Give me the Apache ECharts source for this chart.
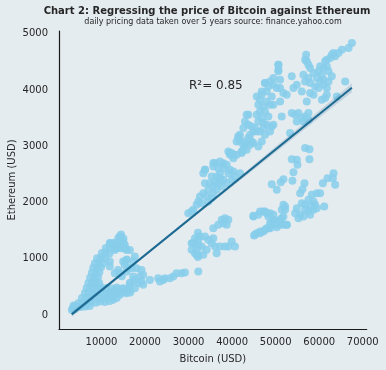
<!DOCTYPE html>
<html>
<head>
<meta charset="utf-8">
<script src="https://cdn.jsdelivr.net/npm/echarts@6/dist/echarts.min.js"></script>
<style>
html,body{margin:0;padding:0;background:#e5ecf0;}
#chart{width:386px;height:370px;}
</style>
</head>
<body>
<div id="chart"></div>
<script>
// ---- data: [Bitcoin USD, Ethereum USD] ----
const lowCluster = [
[3200,90],[3800,100],[3400,120],[4300,135],[5300,140],[6300,150],[7300,160],[4000,160],[3600,170],
[4700,210],[5700,220],[6700,205],[7700,230],[8700,215],[9700,240],[10800,230],
[5500,300],[6500,310],[7500,295],[8500,320],[9500,300],[10500,310],[11500,290],[12500,320],[13500,300],
[6200,390],[7100,400],[8000,385],[9000,410],[10000,395],[11000,380],[12000,400],[13100,400],[14300,380],[15400,410],[16600,400],
[6600,480],[7500,490],[8400,470],[9300,500],[10000,485],[11200,480],[12400,470],[13500,490],[14700,460],[16200,480],
[7000,570],[7900,560],[8800,580],[9500,565],
[7400,660],[8300,650],[9200,670],
[7800,750],[8700,740],[9500,760],
[8100,840],[9000,830],[9900,850],
[8500,920],[9400,935],[10300,915],
[9000,1010],[9900,1020],[10800,1000],
[10100,1100],[11000,1110],[11800,1090],
[11000,1190],[12000,1200],[13100,1185],[14300,1195],[15450,1180],
[12000,1280],[13100,1290],[14300,1275],[15050,1285],
[13900,1370],[15050,1360],[14500,1430],
[15440,956],[16210,837],[14670,689],[16590,571],[15820,986]
];
const midTrail = [
[14214,1394],[14981,1305],[13831,1276],[15364,1246],[14597,1187],[13447,1187],[15747,1157],[12681,1246],[11914,1276],[13064,1157],
[16514,1157],[17664,1039],[17281,950],[15747,979],[15364,890],[14981,950],[11914,950],[11914,861],
[13831,801],[13064,742],[14214,742],[15747,772],[16897,831],[18047,831],[19198,801],[19581,712],[18814,683],[17281,683],
[17664,623],[16514,564],[18431,564],[19198,594],[19581,535],[17664,475],[16514,446],[14981,475],[13447,446],[12681,386],
[11914,327],[14214,357],[15747,386],[12681,268],[11914,250],
[21114,623],[23031,653],[23414,594],[24181,623],[24564,653],[25714,653],[26481,683],[27248,742],[28398,742],[29164,754]
];
const midCluster = [
[30698,1276],[31464,1365],[32231,1246],[31848,1157],[32231,1068],[31464,1098],[32231,772],
[35680,1543],[36830,1603],[37600,1692],[38365,1721],[39130,1692],[37980,1632],[38750,1603],
[32615,1395],[33765,1395],[32230,1336],[31080,1277],[30700,1158],[31850,1069],[33380,1069],[34150,1158],[35300,1277],
[36065,1218],[36450,1099],[37215,1218],[38365,1218],[39130,1218],[39900,1306],[40665,1218],[35680,1366],[34530,1336],
[32998,1218],[32150,1460],[32150,1032]
];
const springBand = [
[44880,1751],[46415,1840],[47565,1840],[48330,1751],[48714,1633],[49480,1692],[50250,1662],[51015,1692],[51780,1751],
[52550,1603],[46415,1484],[45265,1425],[47565,1514],[48330,1543],[51400,1870],[52165,1929],
[44880,1763],[46030,1781],[47180,1840],[47950,1810],[48720,1810],[49480,1781],[49100,1662],[49860,1633],[51010,1603],
[51780,1603],[52550,1603],[48720,1544],[47950,1544],[47180,1484],[46410,1455],[45650,1455],[45030,1413],[50250,1561],[49480,1603]
];
const rightScatter = [
[56760,2967],[57760,2949],[53700,2771],[54850,2759],[55000,2670],[57760,2771],[54080,2540],[49100,2326],[50250,2226],
[51170,2362],[51780,2415],[53850,2386],[56610,2344],[56150,2237],[55620,2166],[60830,2344],[61900,2433],[63280,2522],
[63130,2433],[63660,2314],[58300,2137],[59450,2166],[60210,2166],[57530,2048],[58680,2018],[59060,1959],[57910,1929],
[56760,1959],[56000,1988],[54850,1899],[56760,1870],[57530,1840],[58680,1870],[59450,1899],[61140,1929],[54470,1810],
[55620,1781],[55230,1721],[56380,1751],[57910,1781],[51780,1959],[52160,1870],[51400,1721]
];
const upperArm = [
[41815,3085],[42965,3026],[44880,3056],[46800,3085],[46030,2996],[43350,2937],[42200,2878],[41050,2848],[40280,2789],
[39515,2848],[39130,2907],[37980,2700],[37215,2730],[36065,2700],[35680,2641],[36830,2611],[37980,2611],[38750,2670],
[39515,2581],[40280,2552],[39130,2522],[37215,2522],[36450,2463],[35300,2463],[33765,2581],[33380,2522],[33765,2344],
[34915,2344],[35680,2285],[34530,2226],[33380,2166],[32615,2107],[32230,2018],[31850,1959],[31080,1870],[29930,1810],
[30700,1840],[33000,1988],[34150,2107],[35680,2166],[36065,2374],[36830,2344],[37600,2285],[37980,2403],[38750,2344],
[39900,2403],[40665,2463],[41815,2522],[36450,2226],[35300,2078],[34530,2018],[37215,2433],
[33765,2582],[35680,2701],[39515,2879],[41430,3176],[42580,3324],[43730,3561],[45650,3887],[46800,3976],[47565,4125],
[50630,4450],[50630,4361]
];
const peakCluster = [
[67500,4836],[66730,4747],[65200,4717],[64430,4658],[63660,4599],[62890,4628],[62500,4569],[61740,4539],[63280,4658],
[61360,4510],[60980,4391],[60210,4421],[59830,4332],[61740,4421],[62130,4332],[60590,4272],[60980,4183],[60210,4154],
[59440,4213],[58680,4302],[57910,4391],[57520,4450],[57140,4510],[56990,4628],[56760,4539],[56370,4272],[57520,4213],
[56760,4154],[57910,4124],[59060,4065],[59830,4035],[60980,4094],[61740,4035],[62130,4154],[62890,4243],[65960,4154],
[61360,3857],[61740,3917],[60590,3828],[64040,3887],[58680,3917],[57910,3946],[57140,3798],[55990,3976],[54840,4094],
[54070,4035],[53690,4243],[51010,4183],[50620,4332],[50620,4450],[49470,4213],[48700,4154],[48320,4065],[49470,4094],
[50240,4035],[51010,4035],[51770,3946],[52540,3917],[47550,4124],[47940,3976],[46790,3917],[46400,3828],[46020,3739],
[47170,3709],[46400,3620],[45640,3561],[47550,3620],[48320,3531],[46790,3501],[46020,3442],[47170,3413],[47940,3383],
[49090,3353],[48700,3264],[47550,3205],[47170,3324],[46400,3264],[45250,3324],[44870,3264],[44100,3205],[43720,3146],
[42950,3086],[42570,3027],[41800,3205],[41420,3146],[41030,3086],[42180,2908],[43340,3561],[42950,3442],[43720,3383],
[44490,3353],[45640,3264],[44490,3086],[44100,3027],[42570,2938],[40270,2849],[39880,2879],[51390,3531],[53690,3590],
[54460,3561],[55220,3590],[56000,3501],[56760,3531],[57520,3590],[57520,3472],[56370,3442],[54840,3442],[53300,3235],
[51010,3798],[49470,3739],[48700,3739],[47940,3798],[49090,3887],[49470,3383]
];
// regression line (fitted line endpoints and 95% band)
const fitLine = [[3170,10],[67500,4040]];
const bandX    = [3170, 12000, 20000, 30000, 40000, 50000, 60000, 67500];
const bandLow  = [-35, 533, 1042, 1666, 2282, 2894, 3505, 3960];
const bandHigh = [55, 593, 1086, 1716, 2352, 2994, 3635, 4120];
const rSquared = '0.85';
const xTicks = [10000,20000,30000,40000,50000,60000,70000];
const yTicks = [0,1000,2000,3000,4000,5000];

const points = [].concat(lowCluster, midTrail, midCluster, springBand, rightScatter, upperArm, peakCluster);
const FONT = '"DejaVu Sans", "Liberation Sans", sans-serif';
const TXT = '#262626';

const chart = echarts.init(document.getElementById('chart'), null, {renderer:'canvas'});
chart.setOption({
  backgroundColor: '#e5ecf0',
  animation: false,
  grid: {left: 59, right: 19.3, top: 31, bottom: 41, containLabel: false, outerBoundsMode: 'none'},
  xAxis: {
    type: 'value', min: 250, max: 70900,
    name: 'Bitcoin (USD)', nameLocation: 'middle', nameGap: 25, nameMoveOverlap: false,
    nameTextStyle: {fontFamily: FONT, fontSize: 10, color: TXT},
    axisLine: {onZero: false, lineStyle: {color: '#1a1a1a', width: 1.2}},
    axisTick: {show: false},
    splitLine: {show: false},
    axisLabel: {customValues: xTicks, formatter: v => String(v), fontFamily: FONT, fontSize: 10, color: TXT, margin: 8}
  },
  yAxis: {
    type: 'value', min: -250, max: 5050,
    name: 'Ethereum (USD)', nameLocation: 'middle', nameGap: 42, nameMoveOverlap: false,
    nameTextStyle: {fontFamily: FONT, fontSize: 10, color: TXT},
    axisLine: {onZero: false, lineStyle: {color: '#1a1a1a', width: 1.2}},
    axisTick: {show: false},
    splitLine: {show: false},
    axisLabel: {customValues: yTicks, formatter: v => String(v), fontFamily: FONT, fontSize: 10, color: TXT, margin: 11}
  },
  graphic: [
    {type: 'text', x: 207, y: 11, style: {text: 'Chart 2: Regressing the price of Bitcoin against Ethereum', font: 'bold 10px ' + FONT, fill: TXT, align: 'center', verticalAlign: 'middle'}},
    {type: 'text', x: 213, y: 22, style: {text: 'daily pricing data taken over 5 years source: finance.yahoo.com', font: '8px ' + FONT, fill: TXT, align: 'center', verticalAlign: 'middle'}},
    {type: 'text', x: 189, y: 86, style: {text: 'R\u00b2= ' + rSquared, font: '12px ' + FONT, fill: TXT, align: 'left', verticalAlign: 'middle'}}
  ],
  series: [
    {
      type: 'scatter', data: points, symbolSize: 8,
      itemStyle: {color: '#87ceeb', opacity: 0.85}, z: 2
    },
    {
      type: 'custom', silent: true, z: 3,
      data: [0],
      renderItem: function (params, api) {
        const pts = [];
        for (let i = 0; i < bandX.length; i++) pts.push(api.coord([bandX[i], bandHigh[i]]));
        for (let i = bandX.length - 1; i >= 0; i--) pts.push(api.coord([bandX[i], bandLow[i]]));
        return {type: 'polygon', shape: {points: pts}, style: {fill: 'rgba(31,108,147,0.18)'}};
      }
    },
    {
      type: 'line', data: fitLine, symbol: 'none', z: 4,
      lineStyle: {color: '#1c6a91', width: 2}
    }
  ]
});
</script>
</body>
</html>
